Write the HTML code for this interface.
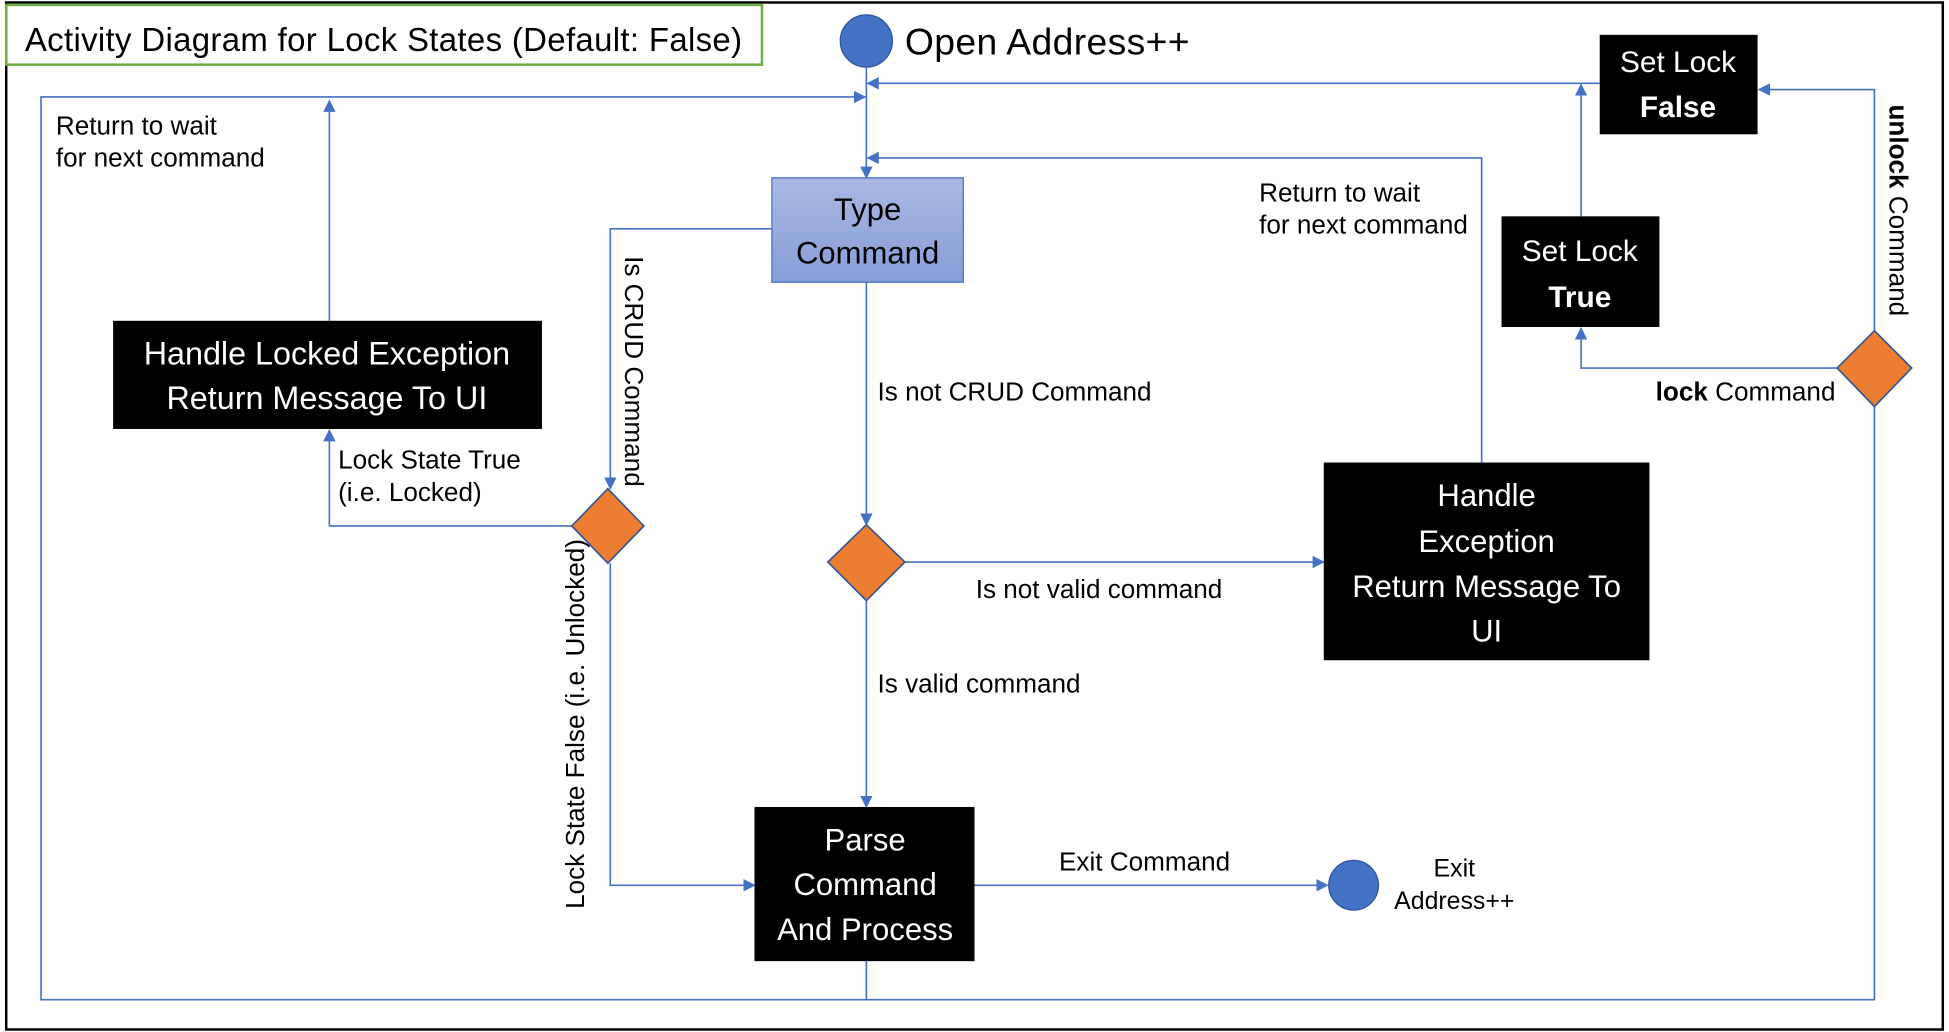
<!DOCTYPE html>
<html><head><meta charset="utf-8"><style>
html,body{margin:0;padding:0;background:#fff;}
svg{display:block;}
text{font-family:"Liberation Sans",sans-serif;}
</style></head><body>
<svg width="1949" height="1032" viewBox="0 0 1568 830" preserveAspectRatio="none" xmlns="http://www.w3.org/2000/svg">
<defs>
<marker id="a" markerWidth="10" markerHeight="10" refX="9" refY="5" orient="auto" markerUnits="userSpaceOnUse"><path d="M0,0 L10,5 L0,10 z" fill="#4472c4"/></marker>
<linearGradient id="g" x1="0" y1="0" x2="0" y2="1"><stop offset="0" stop-color="#a9b8e2"/><stop offset="1" stop-color="#879dd8"/></linearGradient>
</defs>
<rect x="0" y="0" width="1568" height="830" fill="#fff"/>
<rect x="5" y="2" width="1558" height="826" fill="none" stroke="#000" stroke-width="2"/>
<rect x="5" y="4" width="608" height="48" fill="none" stroke="#70ad47" stroke-width="2"/>
<text x="20" y="41" font-size="26.5" fill="#000" textLength="577">Activity Diagram for Lock States (Default: False)</text>
<circle cx="697" cy="33" r="21" fill="#4472c4" stroke="#2f5597"/>
<text x="728" y="44" font-size="30" fill="#000" textLength="229">Open Address++</text>
<g fill="none" stroke="#4472c4" stroke-width="1.3">
<path d="M697 54 V143" marker-end="url(#a)"/>
<path d="M1287 67 H698" marker-end="url(#a)"/>
<path d="M1192 372 V127 H698" marker-end="url(#a)"/>
<path d="M697 773 V804 H33 V78 H696" marker-end="url(#a)"/>
<path d="M265 258 V81" marker-end="url(#a)"/>
<path d="M621 184 H491 V393" marker-end="url(#a)"/>
<path d="M460 423 H265 V346" marker-end="url(#a)"/>
<path d="M491 453 V712 H607" marker-end="url(#a)"/>
<path d="M697 227 V422" marker-end="url(#a)"/>
<path d="M728 452 H1065" marker-end="url(#a)"/>
<path d="M697 483 V649" marker-end="url(#a)"/>
<path d="M784 712 H1068" marker-end="url(#a)"/>
<path d="M1272 174 V68" marker-end="url(#a)"/>
<path d="M1478 296 H1272 V264" marker-end="url(#a)"/>
<path d="M1508 266 V72 H1415" marker-end="url(#a)"/>
<path d="M1508 327 V804 H697"/>
</g>
<rect x="621" y="143" width="154" height="84" fill="url(#g)" stroke="#4472c4"/>
<text x="698" y="177" font-size="25" text-anchor="middle">Type</text>
<text x="698" y="212" font-size="25" text-anchor="middle">Command</text>
<rect x="91" y="258" width="345" height="87" fill="#000"/>
<text x="263" y="293" font-size="26" fill="#fff" text-anchor="middle">Handle Locked Exception</text>
<text x="263" y="329" font-size="26" fill="#fff" text-anchor="middle">Return Message To UI</text>
<rect x="607" y="649" width="177" height="124" fill="#000"/>
<text x="696" y="684" font-size="25" fill="#fff" text-anchor="middle">Parse</text>
<text x="696" y="720" font-size="25" fill="#fff" text-anchor="middle">Command</text>
<text x="696" y="756" font-size="25" fill="#fff" text-anchor="middle">And Process</text>
<rect x="1065" y="372" width="262" height="159" fill="#000"/>
<text x="1196" y="407" font-size="25" fill="#fff" text-anchor="middle">Handle</text>
<text x="1196" y="444" font-size="25" fill="#fff" text-anchor="middle">Exception</text>
<text x="1196" y="480" font-size="25" fill="#fff" text-anchor="middle">Return Message To</text>
<text x="1196" y="516" font-size="25" fill="#fff" text-anchor="middle">UI</text>
<rect x="1287" y="28" width="127" height="80" fill="#000"/>
<text x="1350" y="58" font-size="24" fill="#fff" text-anchor="middle">Set Lock</text>
<text x="1350" y="94" font-size="24" fill="#fff" font-weight="bold" text-anchor="middle">False</text>
<rect x="1208" y="174" width="127" height="89" fill="#000"/>
<text x="1271" y="210" font-size="24" fill="#fff" text-anchor="middle">Set Lock</text>
<text x="1271" y="247" font-size="24" fill="#fff" font-weight="bold" text-anchor="middle">True</text>
<g fill="#ed7d31" stroke="#2f5597" stroke-width="1.3">
<path d="M489 393 L518 423 L489 453 L460 423 z"/>
<path d="M697 422 L728 452 L697 483 L666 452 z"/>
<path d="M1508 266 L1538 296 L1508 327 L1478 296 z"/>
</g>
<circle cx="1089" cy="712" r="20" fill="#4472c4" stroke="#2f5597"/>
<g font-size="20" fill="#000">
<text x="1170" y="705" text-anchor="middle">Exit</text>
<text x="1170" y="731" text-anchor="middle">Address++</text>
</g>
<g font-size="21" fill="#000">
<text x="45" y="108">Return to wait</text>
<text x="45" y="134">for next command</text>
<text x="1013" y="162">Return to wait</text>
<text x="1013" y="188">for next command</text>
<text x="706" y="322">Is not CRUD Command</text>
<text x="272" y="377">Lock State True</text>
<text x="272" y="403">(i.e. Locked)</text>
<text x="785" y="481">Is not valid command</text>
<text x="706" y="557">Is valid command</text>
<text x="852" y="700">Exit Command</text>
<text x="1332" y="322"><tspan font-weight="bold">lock</tspan> Command</text>
<text transform="translate(503,206) rotate(90)">Is CRUD Command</text>
<text transform="translate(470,731) rotate(-90)">Lock State False (i.e. Unlocked)</text>
<text transform="translate(1520,84) rotate(90)"><tspan font-weight="bold">unlock</tspan> Command</text>
</g>
</svg>
</body></html>
